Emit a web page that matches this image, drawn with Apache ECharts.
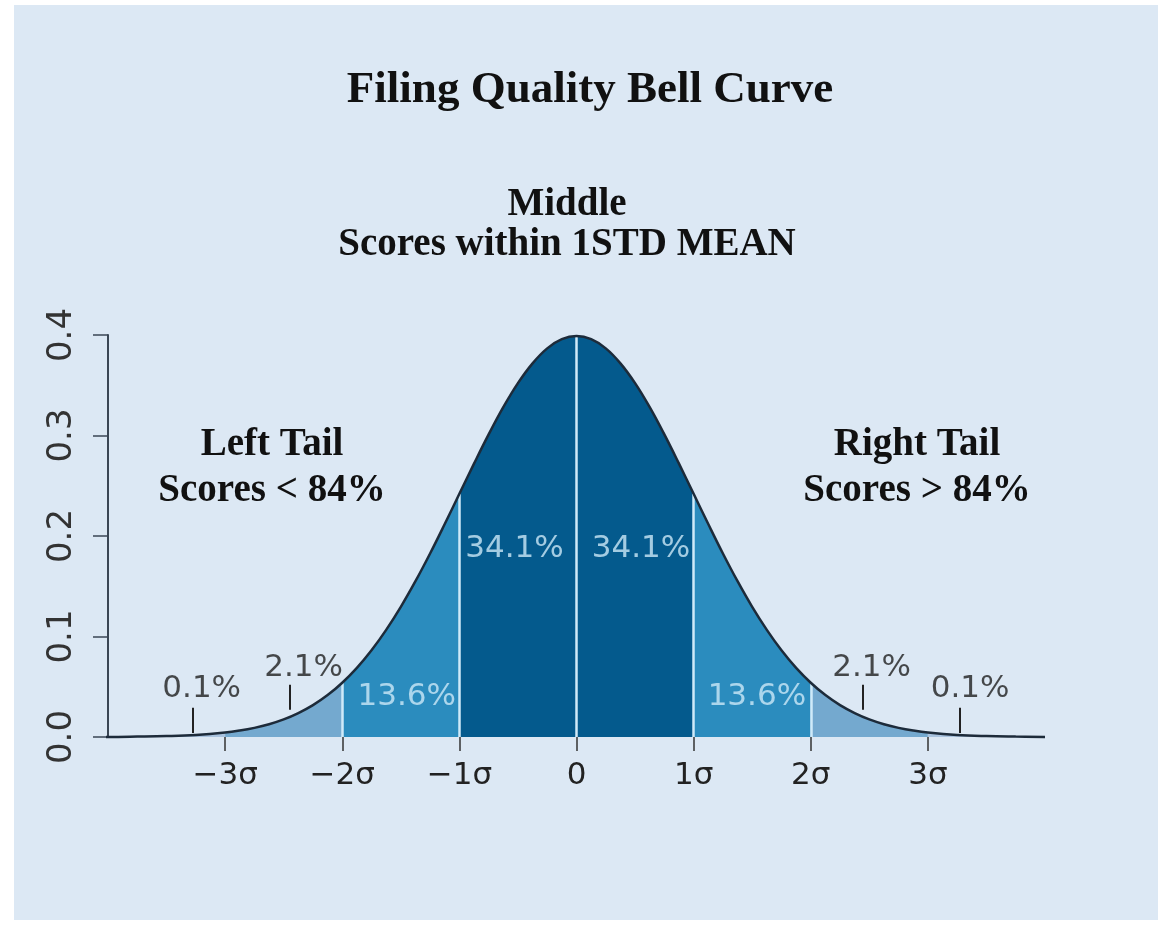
<!DOCTYPE html>
<html>
<head>
<meta charset="utf-8">
<script src="https://cdn.jsdelivr.net/npm/echarts@6/dist/echarts.min.js"></script>
<style>
  html, body { margin: 0; padding: 0; background: #ffffff; }
  #chart { width: 1164px; height: 925px; }
</style>
</head>
<body>
<div id="chart"></div>
<script>
// ---- data ----
var curveX = [-4.15, -4, -3.75, -3.5, -3.25, -3, -2.875, -2.75, -2.625, -2.5, -2.375, -2.25, -2.125, -2,
              -1.875, -1.75, -1.625, -1.5, -1.375, -1.25, -1.125, -1, -0.875, -0.75, -0.625, -0.5, -0.375, -0.25, -0.125, 0,
              0.125, 0.25, 0.375, 0.5, 0.625, 0.75, 0.875, 1, 1.125, 1.25, 1.375, 1.5, 1.625, 1.75, 1.875, 2,
              2.125, 2.25, 2.375, 2.5, 2.625, 2.75, 2.875, 3, 3.25, 3.5, 3.75, 4];
var curveY = [0.0001, 0.0001, 0.0004, 0.0009, 0.0020, 0.0044, 0.0064, 0.0091, 0.0127, 0.0175, 0.0238, 0.0317, 0.0417, 0.0540,
              0.0688, 0.0863, 0.1066, 0.1295, 0.1550, 0.1826, 0.2119, 0.2420, 0.2720, 0.3011, 0.3282, 0.3521, 0.3718, 0.3867, 0.3958, 0.3989,
              0.3958, 0.3867, 0.3718, 0.3521, 0.3282, 0.3011, 0.2720, 0.2420, 0.2119, 0.1826, 0.1550, 0.1295, 0.1066, 0.0863, 0.0688, 0.0540,
              0.0417, 0.0317, 0.0238, 0.0175, 0.0127, 0.0091, 0.0064, 0.0044, 0.0020, 0.0009, 0.0004, 0.0001];
var bandEdges = [-4.15, -3, -2, -1, 0, 1, 2, 3, 4];
var dividers = [-2, -1, 0, 1, 2];
var xTickValues = [-3, -2, -1, 0, 1, 2, 3];
var xTickLabels = ['\u22123\u03c3', '\u22122\u03c3', '\u22121\u03c3', '0', '1\u03c3', '2\u03c3', '3\u03c3'];
var pctLabels = ['0.1%', '2.1%', '13.6%', '34.1%', '34.1%', '13.6%', '2.1%', '0.1%'];
var pctX = [-3.2, -2.33, -1.45, -0.53, 0.55, 1.54, 2.52, 3.36];
var pctY = [0.048, 0.069, 0.040, 0.187, 0.187, 0.040, 0.069, 0.048];
var pointerX = [-3.28, -2.45, 2.44, 3.27];
var pointerY0 = [0.004, 0.027, 0.027, 0.004];
var pointerY1 = [0.029, 0.052, 0.052, 0.029];

// ---- styles ----
var bandColors = ['#a9c3df', '#74a9cf', '#2b8cbe', '#045a8d', '#045a8d', '#2b8cbe', '#74a9cf', '#a9c3df'];
var pctColors = ['#1e1e1e', '#1e1e1e', '#cde8f8', '#cde8f8', '#cde8f8', '#cde8f8', '#1e1e1e', '#1e1e1e'];
var SANS = '"DejaVu Sans", Verdana, sans-serif';
var SERIF = '"Liberation Serif", "Times New Roman", serif';

var curveData = curveX.map(function (x, i) { return [x, curveY[i]]; });

var series = [];
for (var b = 0; b < bandEdges.length - 1; b++) {
  var lo = bandEdges[b], hi = bandEdges[b + 1];
  series.push({
    type: 'line',
    data: curveData.filter(function (p) { return p[0] >= lo - 1e-9 && p[0] <= hi + 1e-9; }),
    smooth: 0.4,
    symbol: 'none',
    clip: false,
    lineStyle: { width: 0, opacity: 0 },
    areaStyle: { color: bandColors[b], opacity: 1 },
    z: 2,
    silent: true
  });
}
series.push({
  type: 'lines',
  coordinateSystem: 'cartesian2d',
  data: dividers.map(function (x) {
    var h = curveY[curveX.indexOf(x)];
    return { coords: [[x, 0], [x, h]] };
  }),
  lineStyle: { color: '#cfeaf9', width: 2.5, opacity: 1 },
  z: 3,
  silent: true
});
series.push({
  type: 'line',
  data: curveData,
  smooth: 0.4,
  symbol: 'none',
  clip: false,
  lineStyle: { color: '#1d2b3a', width: 2.5 },
  z: 5,
  silent: true
});
series.push({
  type: 'lines',
  coordinateSystem: 'cartesian2d',
  data: pointerX.map(function (x, i) { return { coords: [[x, pointerY0[i]], [x, pointerY1[i]]] }; }),
  lineStyle: { color: '#222222', width: 2, opacity: 1 },
  z: 6,
  silent: true
});
series.push({
  type: 'scatter',
  symbolSize: 0,
  data: pctLabels.map(function (t, i) {
    return { value: [pctX[i], pctY[i]], name: t, label: { color: pctColors[i] } };
  }),
  label: {
    show: true,
    position: 'inside',
    formatter: function (p) { return p.name; },
    fontFamily: SANS,
    fontSize: 31
  },
  z: 7,
  silent: true
});

var option = {
  backgroundColor: '#ffffff',
  animation: false,
  graphic: [
    { type: 'rect', z: -100, shape: { x: 14, y: 5, width: 1144, height: 915 }, style: { fill: '#dce8f4' } },
    { type: 'text', x: 590, y: 90, z: 10,
      style: { text: 'Filing Quality Bell Curve', font: 'bold 45px ' + SERIF, fill: '#111111',
               align: 'center', verticalAlign: 'middle', textAlign: 'center', textVerticalAlign: 'middle' } },
    { type: 'text', x: 567, y: 225, z: 10,
      style: { text: 'Middle\nScores within 1STD MEAN', font: 'bold 39px ' + SERIF, fill: '#111111', lineHeight: 40,
               align: 'center', verticalAlign: 'middle', textAlign: 'center', textVerticalAlign: 'middle' } },
    { type: 'text', x: 272, y: 468, z: 10,
      style: { text: 'Left Tail\nScores < 84%', font: 'bold 39px ' + SERIF, fill: '#111111', lineHeight: 46,
               align: 'center', verticalAlign: 'middle', textAlign: 'center', textVerticalAlign: 'middle' } },
    { type: 'text', x: 917, y: 468, z: 10,
      style: { text: 'Right Tail\nScores > 84%', font: 'bold 39px ' + SERIF, fill: '#111111', lineHeight: 46,
               align: 'center', verticalAlign: 'middle', textAlign: 'center', textVerticalAlign: 'middle' } }
  ],
  grid: { left: 108, right: 119, top: 335, bottom: 188, containLabel: false },
  xAxis: {
    type: 'value',
    min: -4, max: 4, interval: 1,
    splitLine: { show: false },
    axisLine: { show: false },
    axisTick: { show: true, customValues: xTickValues, length: 14, lineStyle: { color: '#333333', width: 1.5 } },
    axisLabel: {
      show: true,
      customValues: xTickValues,
      formatter: function (v) { var i = xTickValues.indexOf(v); return i >= 0 ? xTickLabels[i] : ''; },
      fontFamily: SANS, fontSize: 31, color: '#222222', margin: 23
    }
  },
  yAxis: {
    type: 'value',
    min: 0, max: 0.4, interval: 0.1,
    splitLine: { show: false },
    axisLine: { show: true, onZero: false, lineStyle: { color: '#3a4654', width: 2 } },
    axisTick: { show: true, length: 15, lineStyle: { color: '#3a4654', width: 1.5 } },
    axisLabel: {
      rotate: 90,
      formatter: function (v) { return v.toFixed(1); },
      fontFamily: SANS, fontSize: 34, color: '#333333', margin: 29
    }
  },
  series: series
};

var chart = echarts.init(document.getElementById('chart'), null, { renderer: 'canvas' });
chart.setOption(option);
</script>
</body>
</html>
